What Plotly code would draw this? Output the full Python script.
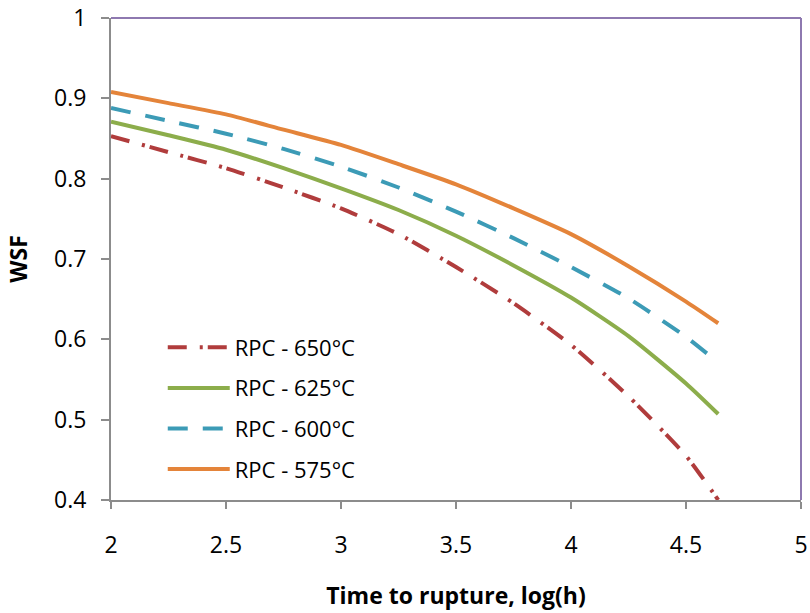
import plotly.graph_objects as go

# Data
x_vals = [2.0, 2.25, 2.5, 2.75, 3.0, 3.25, 3.5, 3.75, 4.0, 4.25, 4.5, 4.64]
wsf_650 = [0.853, 0.833, 0.813, 0.789, 0.763, 0.731, 0.690, 0.645, 0.593, 0.529, 0.455, 0.400]
wsf_625 = [0.871, 0.854, 0.836, 0.813, 0.788, 0.761, 0.729, 0.692, 0.652, 0.604, 0.545, 0.507]
wsf_600 = [0.888, 0.872, 0.856, 0.837, 0.815, 0.789, 0.759, 0.726, 0.690, 0.651, 0.603, 0.571]
wsf_575 = [0.908, 0.894, 0.880, 0.861, 0.842, 0.818, 0.793, 0.763, 0.731, 0.691, 0.647, 0.620]

series_names = ["RPC - 650°C", "RPC - 625°C", "RPC - 600°C", "RPC - 575°C"]
series_values = [wsf_650, wsf_625, wsf_600, wsf_575]
colors = ["#B03C3C", "#8CAD4B", "#3C9BB6", "#E4843A"]
dashes = ["19px,13px,3px,5px", "solid", "20px,15px", "solid"]

x_ticks = [2, 2.5, 3, 3.5, 4, 4.5, 5]
y_ticks = [0.4, 0.5, 0.6, 0.7, 0.8, 0.9, 1.0]
x_tick_text = ["2", "2.5", "3", "3.5", "4", "4.5", "5"]
y_tick_text = ["0.4", "0.5", "0.6", "0.7", "0.8", "0.9", "1"]

FONT = "Open Sans"

fig = go.Figure()
for i, (name, vals) in enumerate(zip(series_names, series_values)):
    fig.add_trace(go.Scatter(
        x=x_vals, y=vals, mode="lines", name=name,
        legendgroup=f"g{i}",
        line=dict(color=colors[i], width=4, dash=dashes[i], shape="spline", smoothing=0.6),
    ))

axis_grey = "#8C8C8C"
purple = "#8E79B0"

fig.update_layout(
    width=810, height=613,
    margin=dict(l=111, r=9, t=18, b=113, autoexpand=False),
    paper_bgcolor="white", plot_bgcolor="white",
    font=dict(family=FONT, size=23, color="black"),
    showlegend=True,
    legend=dict(
        x=0.075, y=0.36, xanchor="left", yanchor="top",
        bgcolor="rgba(0,0,0,0)", font=dict(family=FONT, size=22, color="black"),
        itemwidth=62, tracegroupgap=9, traceorder="grouped",
    ),
    xaxis=dict(
        range=[2, 5], tickvals=x_ticks, ticktext=x_tick_text,
        showgrid=False, zeroline=False, automargin=False,
        showline=True, linecolor=axis_grey, linewidth=2,
        ticks="outside", ticklen=7, tickwidth=2, tickcolor=axis_grey,
        ticklabelstandoff=16,
        tickfont=dict(family=FONT, size=23, color="black"),
        title=dict(text="<b>Time to rupture, log(h)</b>", font=dict(family=FONT, size=23, color="black"), standoff=29),
    ),
    yaxis=dict(
        range=[0.4, 1.0], tickvals=y_ticks, ticktext=y_tick_text,
        showgrid=False, zeroline=False, automargin=False,
        showline=True, linecolor=axis_grey, linewidth=2,
        ticks="outside", ticklen=8, tickwidth=2, tickcolor=axis_grey,
        ticklabelstandoff=10,
        tickfont=dict(family=FONT, size=23, color="black"),
        title=dict(text="<b>WSF</b>", font=dict(family=FONT, size=23, color="black"), standoff=20),
    ),
)

# Top and right border of the plot area
fig.add_shape(type="line", xref="x domain", yref="y domain", x0=0, x1=1, y0=1, y1=1,
              line=dict(color=purple, width=2))
fig.add_shape(type="line", xref="x domain", yref="y domain", x0=1, x1=1, y0=0, y1=1,
              line=dict(color=purple, width=2))

fig.write_html("out.html", config={"displayModeBar": False})

# Remove the default page margin so the figure sits at the window's top-left corner
with open("out.html", "r", encoding="utf-8") as f:
    html = f.read()
html = html.replace("<head>", "<head><style>html,body{margin:0;padding:0;overflow:hidden;}</style>", 1)
with open("out.html", "w", encoding="utf-8") as f:
    f.write(html)
